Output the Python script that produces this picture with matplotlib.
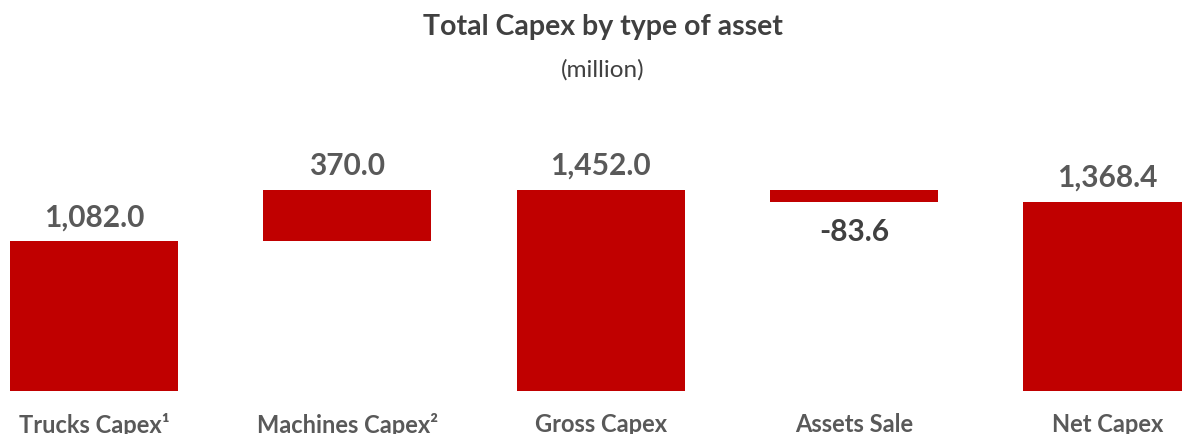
import matplotlib
matplotlib.use("Agg")
import matplotlib.pyplot as plt

categories = ["Trucks Capex¹", "Machines Capex²", "Gross Capex", "Assets Sale", "Net Capex"]
values = [1082.0, 370.0, 1452.0, -83.6, 1368.4]
is_total = [False, False, True, False, True]
value_labels = ["1,082.0", "370.0", "1,452.0", "-83.6", "1,368.4"]

plt.rcParams['font.family'] = ['Lato', 'DejaVu Sans']

W, H = 1182, 435
fig = plt.figure(figsize=(W / 100, H / 100), dpi=100)
ax = fig.add_axes([0, (H - 392) / H, 1, 201 / H])

bottoms, heights = [], []
running = 0.0
for v, tot in zip(values, is_total):
    if tot:
        bottoms.append(0.0)
        heights.append(v)
        running = v
    else:
        if v >= 0:
            bottoms.append(running)
            heights.append(v)
        else:
            bottoms.append(running + v)
            heights.append(-v)
        running += v

x = list(range(len(categories)))
ax.bar(x, heights, bottom=bottoms, width=0.663, color="#C00000", edgecolor="none")

for i, (v, b, h, lab) in enumerate(zip(values, bottoms, heights, value_labels)):
    if v >= 0:
        ax.annotate(lab, (i, b + h), xytext=(0, 8), textcoords="offset points",
                    ha="center", va="bottom", fontsize=21.5, fontweight="bold",
                    color="#595959", annotation_clip=False)
    else:
        ax.annotate(lab, (i, b), xytext=(0, -11), textcoords="offset points",
                    ha="center", va="top", fontsize=21.5, fontweight="bold",
                    color="#404040", annotation_clip=False)

ax.set_xlim(-94 / 253.3, (W - 94) / 253.3)
ax.set_ylim(0, 1452)
ax.set_xticks(x)
ax.set_xticklabels(categories, fontsize=17, fontweight="bold", color="#595959")
ax.tick_params(axis="x", length=0, pad=15)
ax.set_yticks([])
for s in ax.spines.values():
    s.set_visible(False)
ax.patch.set_alpha(0)

fig.text(603 / W, 1 - 27 / H, "Total Capex by type of asset", ha="center", va="center",
         fontsize=20.5, fontweight="bold", color="#404040")
fig.text(603 / W, 1 - 70 / H, "(million)", ha="center", va="center",
         fontsize=17.5, color="#404040")

fig.savefig("out.png", dpi=100)
